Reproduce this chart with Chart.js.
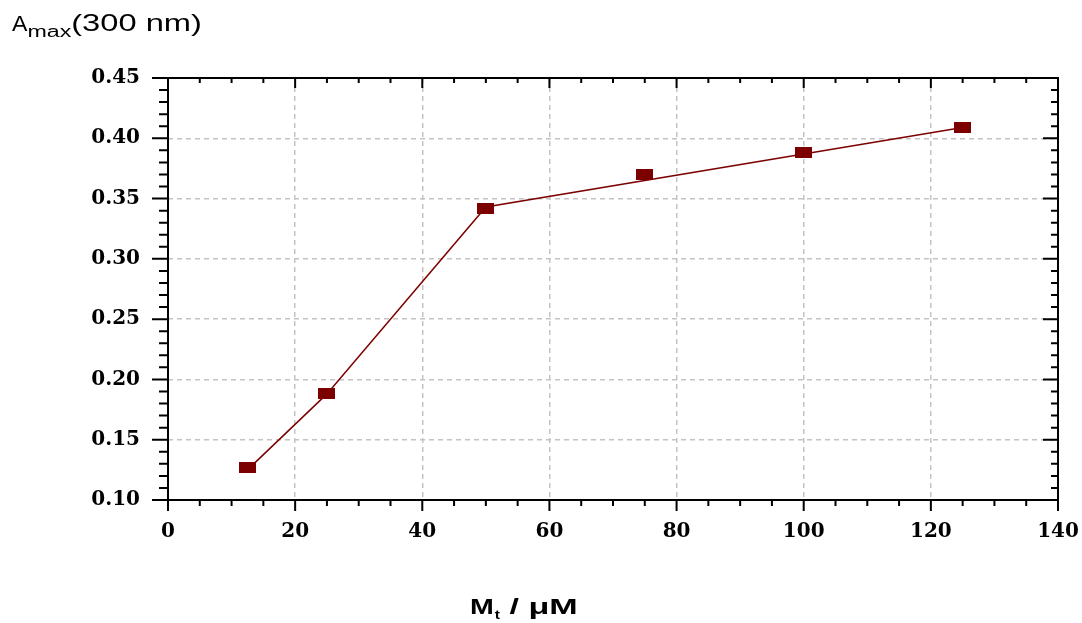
<!DOCTYPE html>
<html>
<head>
<meta charset="utf-8">
<script src="https://cdn.jsdelivr.net/npm/chart.js@4.4.1/dist/chart.umd.min.js"></script>
<style>
  html, body { margin: 0; padding: 0; background: #fff; }
  #wrap { width: 1082px; height: 623px; position: relative; }
</style>
</head>
<body>
<div id="wrap"><canvas id="c"></canvas></div>
<script>
// ── DATA ──────────────────────────────────────────────────────────────────
const concX  = [12.5, 25, 50, 75, 100, 125];            // M_t / µM
const absY   = [0.127, 0.188, 0.342, 0.370, 0.388, 0.409]; // A_max(300 nm)
const fitX   = [12.5, 25, 50, 125];
const fitY   = [0.125, 0.188, 0.343, 0.409];
const xTicks = [0, 20, 40, 60, 80, 100, 120, 140];
const yTicks = [0.10, 0.15, 0.20, 0.25, 0.30, 0.35, 0.40, 0.45];

const RED = '#7d0000';

// rectangular marker, wider than tall
const marker = document.createElement('canvas');
marker.width = 17; marker.height = 11;
(function() {
  const m = marker.getContext('2d');
  m.fillStyle = RED;
  m.fillRect(0, 0, 17, 11);
})();

function stretchedText(ctx, text, x, y, font, sx) {
  ctx.save();
  ctx.font = font;
  ctx.translate(x, y);
  ctx.scale(sx, 1);
  ctx.fillText(text, 0, 0);
  const w = ctx.measureText(text).width * sx;
  ctx.restore();
  return w;
}

// frame, major/minor ticks and the axis titles
const decor = {
  id: 'decor',
  afterDraw(chart) {
    const ctx = chart.ctx, a = chart.chartArea;
    const xs = chart.scales.x, ys = chart.scales.y;
    ctx.save();
    ctx.strokeStyle = '#000';
    ctx.lineWidth = 2;
    ctx.strokeRect(a.left, a.top, a.right - a.left, a.bottom - a.top);

    ctx.beginPath();
    for (let v = 0; v <= 140; v += 5) {
      const px = xs.getPixelForValue(v);
      const major = v % 20 === 0;
      ctx.moveTo(px, a.bottom); ctx.lineTo(px, a.bottom + (major ? 11 : 6));
      ctx.moveTo(px, a.top);    ctx.lineTo(px, a.top + (major ? 10 : 5));
    }
    for (let i = 0; i <= 35; i++) {
      const v = 0.10 + i * 0.01;
      const py = ys.getPixelForValue(v);
      const major = i % 5 === 0;
      ctx.moveTo(a.left, py);  ctx.lineTo(a.left - (major ? 16 : 9), py);
      ctx.moveTo(a.right, py); ctx.lineTo(a.right - (major ? 15 : 7), py);
    }
    ctx.stroke();

    ctx.fillStyle = '#000';
    ctx.textBaseline = 'alphabetic';
    const f = '"Liberation Sans", Arial, sans-serif';
    // y title
    let x = 12;
    x += stretchedText(ctx, 'A', x, 31, '22px ' + f, 1.05);
    x += stretchedText(ctx, 'max', x, 37, '16px ' + f, 1.45);
    stretchedText(ctx, '(300 nm)', x, 31, '24px ' + f, 1.36);
    // x title
    x = 470;
    x += stretchedText(ctx, 'M', x, 614, 'bold 22px ' + f, 1.3);
    x += stretchedText(ctx, 't', x + 1, 619, 'bold 12px ' + f, 1.3) + 1;
    stretchedText(ctx, ' / \u03bcM', x, 614, 'bold 22px ' + f, 1.55);
    ctx.restore();
  }
};

const tickFont = { family: '"DejaVu Serif", serif', size: 20, weight: 'bold' };

new Chart(document.getElementById('c'), {
  type: 'scatter',
  data: {
    datasets: [
      {
        data: concX.map((v, i) => ({ x: v, y: absY[i] })),
        pointStyle: marker,
        pointRadius: 8,
        showLine: false
      },
      {
        data: fitX.map((v, i) => ({ x: v, y: fitY[i] })),
        showLine: true,
        borderColor: RED,
        borderWidth: 1.5,
        pointRadius: 0,
        fill: false
      }
    ]
  },
  plugins: [decor],
  options: {
    responsive:          true,
    maintainAspectRatio: false,
    animation:           false,
    layout: { padding: { left: 0, top: 78, right: 24, bottom: 0 } },
    plugins: {
      legend:  { display: false },
      tooltip: { enabled: false }
    },
    scales: {
      x: {
        type: 'linear',
        min: 0, max: 140,
        afterFit: s => { s.height = 123; s.paddingRight = 0; },
        afterBuildTicks: s => { s.ticks = xTicks.map(v => ({ value: v })); },
        border: { display: false, dash: [5, 4] },
        grid:  { color: '#c4c4c4', lineWidth: 1.5, drawTicks: false },
        ticks: { padding: 20, color: '#000', font: tickFont, maxRotation: 0 }
      },
      y: {
        type: 'linear',
        min: 0.10, max: 0.45,
        afterFit: s => { s.width = 168; s.paddingTop = 0; s.paddingBottom = 0; },
        afterBuildTicks: s => { s.ticks = yTicks.map(v => ({ value: v })); },
        border: { display: false, dash: [5, 4] },
        grid:  { color: '#c4c4c4', lineWidth: 1.5, drawTicks: false },
        ticks: {
          padding: 28,
          color: '#000',
          font: tickFont,
          callback: v => v.toFixed(2)
        }
      }
    }
  }
});
</script>
</body>
</html>
